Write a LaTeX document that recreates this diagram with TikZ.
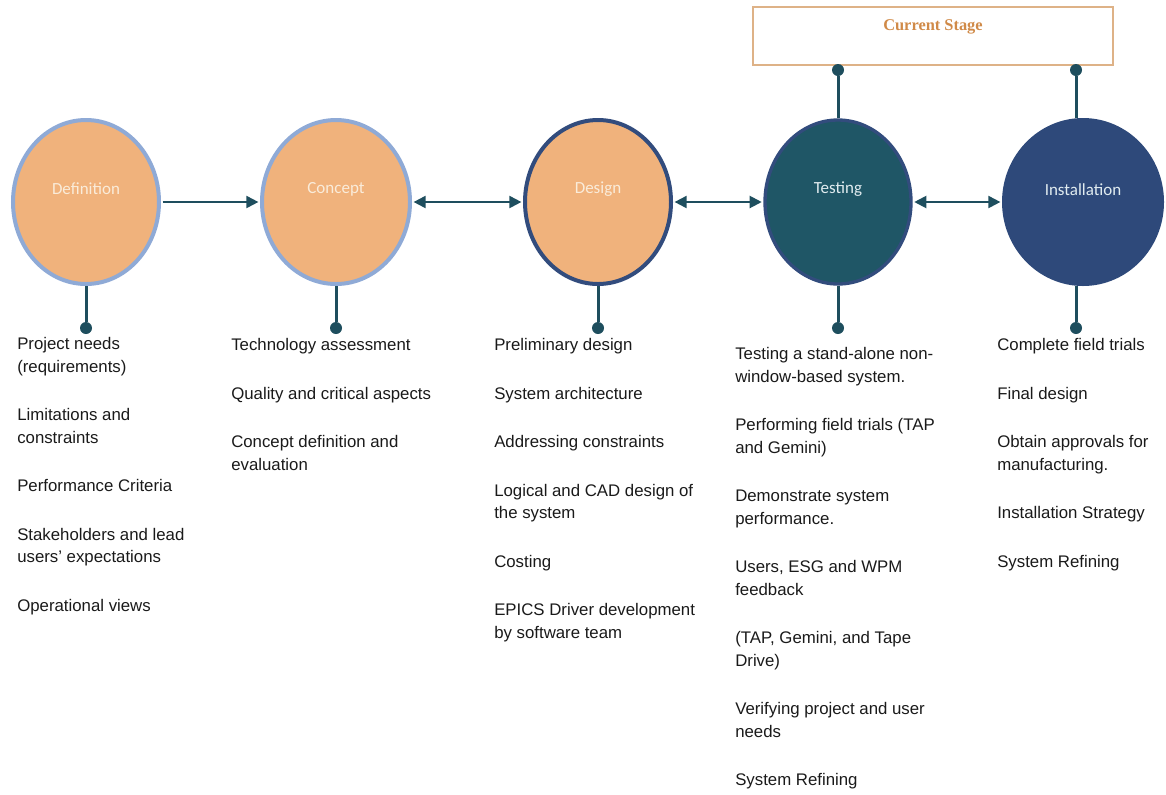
\documentclass[tikz,border=0pt]{standalone}
\usepackage{fontspec}
\setmainfont{Liberation Sans}
\newfontfamily\phasefont{Carlito}
\newfontfamily\stagefont{Liberation Serif}
\usetikzlibrary{shapes.geometric,arrows.meta}

\definecolor{phaseorange}{RGB}{240,178,124}
\definecolor{phaselight}{RGB}{143,170,214}
\definecolor{phasenavy}{RGB}{50,76,125}
\definecolor{phaseteal}{RGB}{31,86,102}
\definecolor{phaseblue}{RGB}{46,73,122}
\definecolor{linkteal}{RGB}{30,78,94}
\definecolor{labelcream}{RGB}{250,236,218}
\definecolor{labelpale}{RGB}{225,236,240}
\definecolor{stageorange}{RGB}{208,138,72}
\definecolor{stageframe}{RGB}{222,178,135}
\definecolor{bodytext}{RGB}{26,26,26}

\tikzset{
  phase/.style={ellipse, line width=3pt, inner sep=0pt,
    minimum width=109.5pt, minimum height=123pt},
  earlyphase/.style={phase, fill=phaseorange, draw=phaselight},
  phasename/.style={font=\phasefont\fontsize{12.75pt}{14pt}\selectfont, inner sep=0pt},
  link/.style={draw=linkteal, line width=1.5pt, shorten >=1.2pt, shorten <=1.2pt},
  tip/.style={-{Triangle[length=9pt,width=9pt]}},
  twotip/.style={{Triangle[length=9pt,width=9pt]}-{Triangle[length=9pt,width=9pt]}},
  stem/.style={draw=linkteal, line width=2.25pt},
  pin/.style={circle, fill=linkteal, inner sep=0pt, minimum size=9pt},
  tasklist/.style={anchor=north west, inner sep=0pt, align=left, text=bodytext,
    font=\fontsize{12.6pt}{16.9pt}\selectfont},
}

\newcommand{\gap}{\\[19.5pt]}

\begin{document}
\begin{tikzpicture}[x=0.75pt, y=-0.75pt]
\useasboundingbox (0,0) rectangle (1166,794);

% stage banner
\node[draw=stageframe, line width=0.8pt, minimum width=270pt, minimum height=43.5pt,
      inner sep=0pt] (stage) at (933,36) {};
\node[text=stageorange, font=\stagefont\bfseries\fontsize{12.3pt}{14pt}\selectfont,
      inner sep=0pt] (stagetitle) at (933,27) {Current Stage};

% phases
\node[earlyphase] (def) at (86,202) {};
\node[earlyphase, minimum width=111pt] (con) at (336,202) {};
\node[phase, fill=phaseorange, draw=phasenavy] (des) at (598,202) {};
\node[phase, fill=phaseteal, draw=phasenavy, line width=2.5pt] (tst) at (838,202) {};
\node[phase, fill=phaseblue, draw=phaseblue, minimum width=118.5pt] (ins) at (1083,202) {};

\node[phasename, text=labelcream] (defname) at (86,189) {Definition};
\node[phasename, text=labelcream] (conname) at (336,189) {Concept};
\node[phasename, text=labelcream] (desname) at (598,189) {Design};
\node[phasename, text=labelpale] (tstname) at (838,189) {Testing};
\node[phasename, text=labelpale] (insname) at (1083,190) {Installation};

% flow between phases
\draw[link, tip] (def.east) -- (con.west);
\draw[link, twotip] (con.east) -- (des.west);
\draw[link, twotip] (des.east) -- (tst.west);
\draw[link, twotip] (tst.east) -- (ins.west);

% pins below the phases
\node[pin] (defpin) at (86,328) {};
\node[pin] (conpin) at (336,328) {};
\node[pin] (despin) at (598,328) {};
\node[pin] (tstpin) at (838,328) {};
\node[pin] (inspin) at (1076,328) {};
\draw[stem] (def.south) -- (defpin);
\draw[stem] (con.south) -- (conpin);
\draw[stem] (des.south) -- (despin);
\draw[stem] (tst.south) -- (tstpin);
\draw[stem] ([xshift=-5.25pt]ins.south) -- (inspin);

% pins up to the stage banner
\node[pin] (tsttop) at (838,70) {};
\node[pin] (instop) at (1076,70) {};
\draw[stem] (tst.north) -- (tsttop);
\draw[stem] ([xshift=-5.25pt]ins.north) -- (instop);

% task lists
\node[tasklist] (deftasks) at (17,333.5) {\strut Project needs\\(requirements)\gap
  Limitations and\\constraints\gap
  Performance Criteria\gap
  Stakeholders and lead\\users' expectations\gap
  Operational views};

\node[tasklist] (contasks) at (231,334.5) {\strut Technology assessment\gap
  Quality and critical aspects\gap
  Concept definition and\\evaluation};

\node[tasklist] (destasks) at (494,334.5) {\strut Preliminary design\gap
  System architecture\gap
  Addressing constraints\gap
  Logical and CAD design of\\the system\gap
  Costing\gap
  EPICS Driver development\\by software team};

\node[tasklist] (tsttasks) at (735,343.5) {\strut Testing a stand-alone non-\\window-based system.\gap
  Performing field trials (TAP\\and Gemini)\gap
  Demonstrate system\\performance.\gap
  Users, ESG and WPM\\feedback\gap
  (TAP, Gemini, and Tape\\Drive)\gap
  Verifying project and user\\needs\gap
  System Refining};

\node[tasklist] (instasks) at (997,334.5) {\strut Complete field trials\gap
  Final design\gap
  Obtain approvals for\\manufacturing.\gap
  Installation Strategy\gap
  System Refining};
\end{tikzpicture}
\end{document}
